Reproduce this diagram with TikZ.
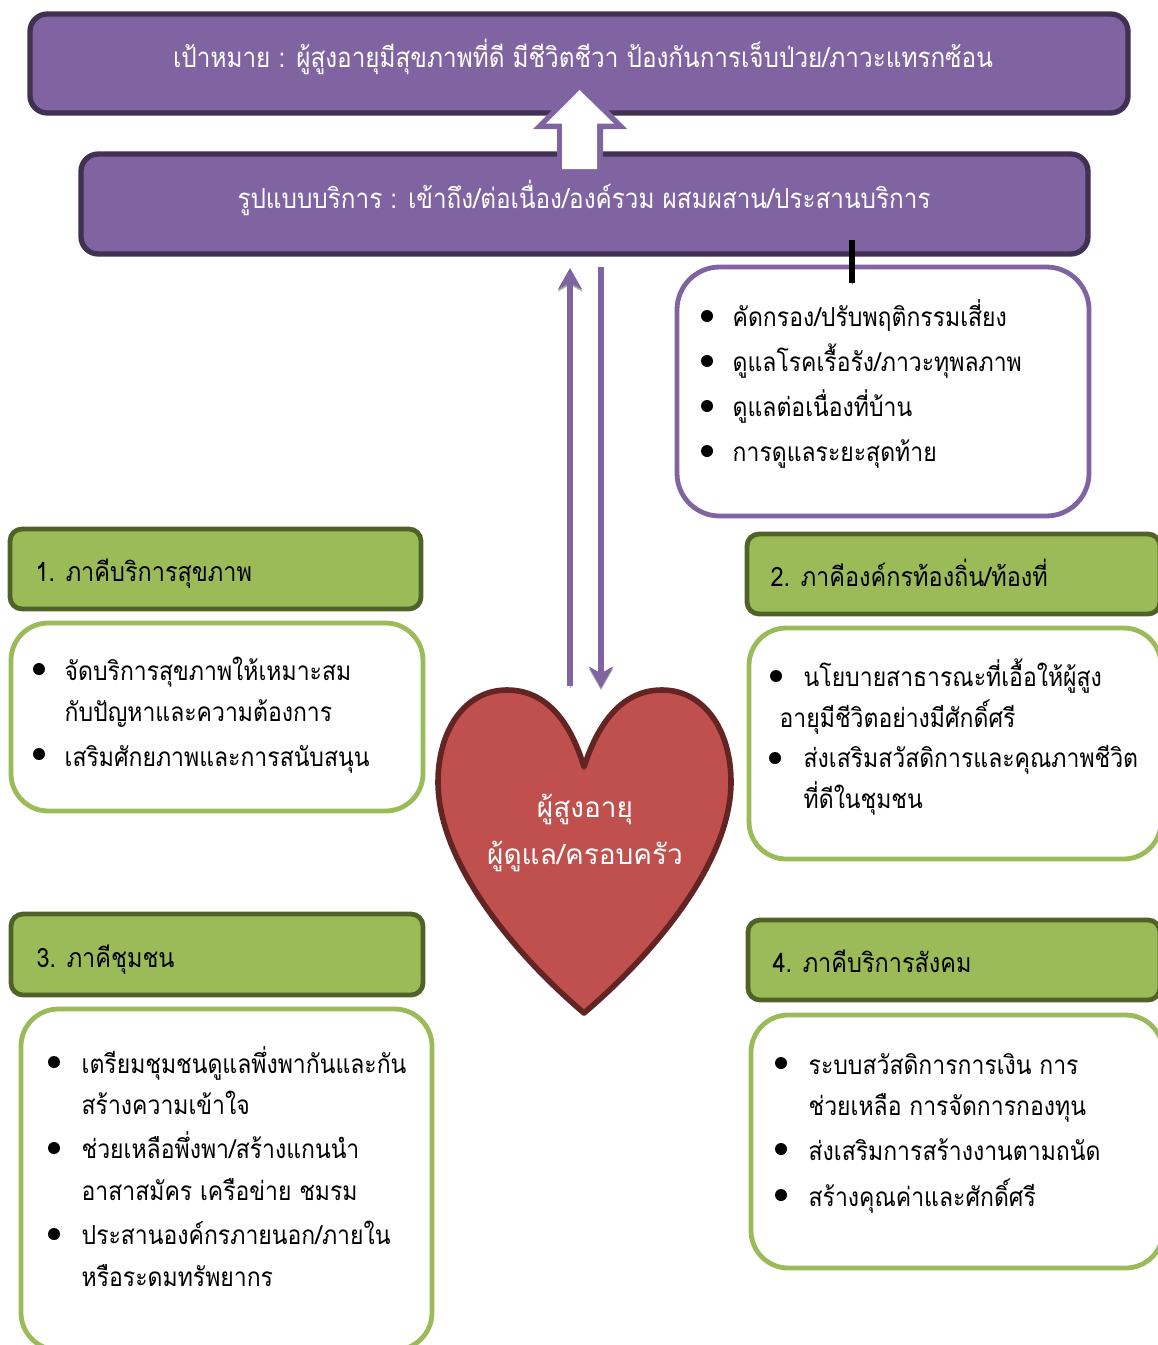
\documentclass[tikz,border=0pt]{standalone}
\usepackage{fontspec}
\usepackage{xcolor}
\usetikzlibrary{arrows.meta}
\newfontfamily\thaifont[Script=Thai]{Loma}
\newfontfamily\thainarrow[Script=Thai,FakeStretch=0.88]{Loma}
\definecolor{planpurple}{HTML}{8064A2}
\definecolor{plandark}{HTML}{403152}
\definecolor{plangreen}{HTML}{9BBB59}
\definecolor{planolive}{HTML}{4F6228}
\definecolor{planred}{HTML}{C0504D}
\definecolor{planmaroon}{HTML}{632523}
\tikzset{
  boxsize/.style 2 args={minimum width=#1*0.75pt,minimum height=#2*0.75pt},
  purplebox/.style={draw=plandark,fill=planpurple,line width=4pt,rounded corners=13pt,inner sep=0pt},
  greenbox/.style={draw=planolive,fill=plangreen,line width=3.6pt,rounded corners=9pt,inner sep=0pt},
  listbox/.style={draw=plangreen,fill=white,line width=3.6pt,rounded corners=28pt,inner sep=0pt},
  infobox/.style={draw=planpurple,fill=white,line width=3.6pt,rounded corners=32pt,inner sep=0pt},
  headtext/.style={text=white,font=\thainarrow\fontsize{20.7}{24}\selectfont,inner sep=0.75pt,anchor=base,yshift=-1.4pt},
  itemtext/.style={text=black,font=\thainarrow\fontsize{19.6}{24}\selectfont,inner sep=0.75pt,anchor=base west,xshift=-1.2pt,yshift=-1.1pt},
  titletext/.style={itemtext,font=\thainarrow\fontsize{20}{24}\selectfont},
  hearttext/.style={text=white,font=\thaifont\fontsize{21}{26}\selectfont,inner sep=0.75pt,anchor=base,yshift=-0.8pt},
  dotmark/.style={circle,fill=black,inner sep=0pt,minimum size=9pt},
  shadowline/.style={preaction={draw=gray!70,transform canvas={yshift=-1.5pt}}},
  flowline/.style={draw=planpurple,line width=4pt,shadowline},
  flowtip/.style={-{Stealth[length=16pt,width=18pt,inset=5pt]}},
}
\begin{document}
\begin{tikzpicture}[x=0.75pt,y=0.75pt,yscale=-1,xscale=1]
\useasboundingbox (0,0) rectangle (1157,1345);

%Purple boxes
\node [purplebox,boxsize={1098}{99}] (goalbox) at (579,63.5) {};
\node [purplebox,boxsize={1007}{100}] (servicebox) at (584.5,204) {};
%Up Arrow
\fill [planpurple] (580,82) -- (627,129) -- (603,129) -- (603,170) -- (557,170) -- (557,129) -- (533,129) -- cycle ;
\fill [white] (579.5,90) -- (614,123.7) -- (597,123.7) -- (597,169) -- (562,169) -- (562,123.7) -- (546,123.7) -- cycle ;

%Rounded boxes
\node [infobox,boxsize={412}{249}] (infopanel) at (883,391.5) {};
\node [greenbox,boxsize={411}{80}] (partnerone) at (215.5,569) {};
\node [listbox,boxsize={412}{188}] (listone) at (217,717) {};
\node [greenbox,boxsize={413}{80}] (partnertwo) at (953.5,574) {};
\node [listbox,boxsize={412}{231}] (listtwo) at (955,743.5) {};
\node [greenbox,boxsize={412}{81}] (partnerthree) at (217,954.5) {};
\node [listbox,boxsize={411}{341}] (listthree) at (226.5,1179.5) {};
\node [greenbox,boxsize={412}{80}] (partnerfour) at (954,960) {};
\node [listbox,boxsize={412}{253}] (listfour) at (957,1141.5) {};

%Heart
\draw [draw=planmaroon,fill=planred,line width=4.2pt,line join=round] (584,767) .. controls (570,720) and (545,690) .. (507,690) .. controls (465,690) and (438,730) .. (438,782) .. controls (438,860) and (510,950) .. (584,1013) .. controls (658,950) and (731,860) .. (731,782) .. controls (731,730) and (704,690) .. (662,690) .. controls (624,690) and (599,720) .. (584,767) -- cycle ;

%Connectors
\coordinate (upstart) at (570,686);
\coordinate (upend) at (570,268);
\coordinate (downstart) at (601,267);
\coordinate (downend) at (601,688);
\coordinate (tiestart) at (852,240);
\coordinate (tieend) at (852,283);
\draw [flowline,flowtip] (upstart) -- (upend) ;
\draw [flowline,flowtip] (downstart) -- (downend) ;
\draw [line width=4.2pt,black,shadowline] (tiestart) -- (tieend) ;

% Text Node
\node [headtext] (goaltext) at (583,66) {เป้าหมาย : ผู้สูงอายุมีสุขภาพที่ดี มีชีวิตชีวา ป้องกันการเจ็บป่วย/ภาวะแทรกซ้อน};
% Text Node
\node [headtext] (servicetext) at (584,207) {รูปแบบบริการ : เข้าถึง/ต่อเนื่อง/องค์รวม ผสมผสาน/ประสานบริการ};
% Text Node
\node [hearttext] (elderlytext) at (585,816) {ผู้สูงอายุ};
% Text Node
\node [hearttext] (carertext) at (585,863) {ผู้ดูแล/ครอบครัว};

% Info list
\node [dotmark] (infodota) at (707,316) {};
\node [dotmark] (infodotb) at (707,361) {};
\node [dotmark] (infodotc) at (707,406) {};
\node [dotmark] (infodotd) at (707,451) {};
\node [itemtext] (infoa) at (733,325) {คัดกรอง/ปรับพฤติกรรมเสี่ยง};
\node [itemtext] (infob) at (733,370) {ดูแลโรคเรื้อรัง/ภาวะทุพลภาพ};
\node [itemtext] (infoc) at (733,415) {ดูแลต่อเนื่องที่บ้าน};
\node [itemtext] (infod) at (733,460) {การดูแลระยะสุดท้าย};

% Partner 1
\node [titletext] (titleone) at (36,580) {1. ภาคีบริการสุขภาพ};
\node [dotmark] (onedota) at (39,669) {};
\node [dotmark] (onedotb) at (39,754) {};
\node [itemtext] (onea) at (65,679) {จัดบริการสุขภาพให้เหมาะสม};
\node [itemtext] (oneb) at (65,720) {กับปัญหาและความต้องการ};
\node [itemtext] (onec) at (65,765) {เสริมศักยภาพและการสนับสนุน};

% Partner 2
\node [titletext] (titletwo) at (771,585) {2. ภาคีองค์กรท้องถิ่น/ท้องที่};
\node [dotmark] (twodota) at (776,676) {};
\node [dotmark] (twodotb) at (775,758) {};
\node [itemtext] (twoa) at (804,685) {นโยบายสาธารณะที่เอื้อให้ผู้สูง};
\node [itemtext] (twob) at (780,726) {อายุมีชีวิตอย่างมีศักดิ์ศรี};
\node [itemtext] (twoc) at (804,766) {ส่งเสริมสวัสดิการและคุณภาพชีวิต};
\node [itemtext] (twod) at (804,807) {ที่ดีในชุมชน};

% Partner 3
\node [titletext] (titlethree) at (37,966) {3. ภาคีชุมชน};
\node [dotmark] (threedota) at (54,1062) {};
\node [dotmark] (threedotb) at (54,1148) {};
\node [dotmark] (threedotc) at (54,1234) {};
\node [itemtext] (threea) at (82,1072) {เตรียมชุมชนดูแลพึ่งพากันและกัน};
\node [itemtext] (threeb) at (82,1113) {สร้างความเข้าใจ};
\node [itemtext] (threec) at (82,1157) {ช่วยเหลือพึ่งพา/สร้างแกนนำ};
\node [itemtext] (threed) at (82,1199) {อาสาสมัคร เครือข่าย ชมรม};
\node [itemtext] (threee) at (82,1243) {ประสานองค์กรภายนอก/ภายใน};
\node [itemtext] (threef) at (82,1285) {หรือระดมทรัพยากร};

% Partner 4
\node [titletext] (titlefour) at (773,971) {4. ภาคีบริการสังคม};
\node [dotmark] (fourdota) at (781,1063) {};
\node [dotmark] (fourdotb) at (781,1149) {};
\node [dotmark] (fourdotc) at (781,1195) {};
\node [itemtext] (foura) at (809,1073) {ระบบสวัสดิการการเงิน การ};
\node [itemtext] (fourb) at (809,1114) {ช่วยเหลือ การจัดการกองทุน};
\node [itemtext] (fourc) at (809,1159) {ส่งเสริมการสร้างงานตามถนัด};
\node [itemtext] (fourd) at (809,1205) {สร้างคุณค่าและศักดิ์ศรี};

\end{tikzpicture}
\end{document}
